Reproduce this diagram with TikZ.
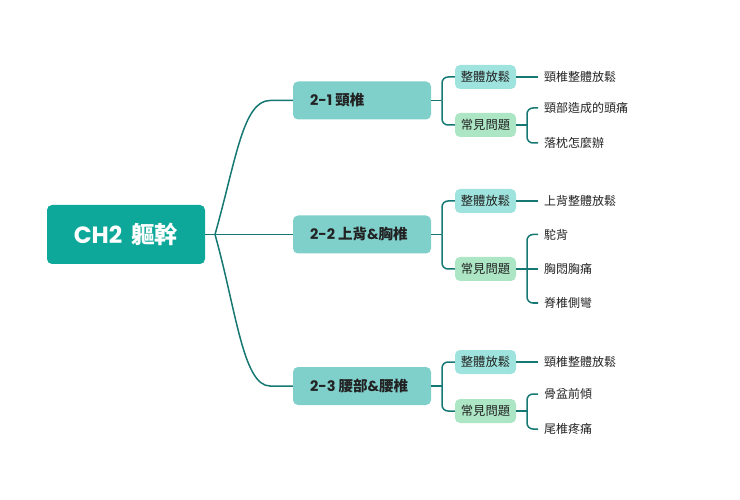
\documentclass[tikz,border=0pt]{standalone}
\usepackage{fontspec}
\newfontfamily\cjk{Noto Sans CJK TC}
\newfontfamily\pop{Poppins}
\definecolor{rootfill}{RGB}{14,168,155}
\definecolor{branchfill}{RGB}{127,207,203}
\definecolor{relaxfill}{RGB}{158,227,221}
\definecolor{probfill}{RGB}{172,230,196}
\definecolor{conn}{RGB}{22,120,115}
\definecolor{txt}{RGB}{34,34,34}
\tikzset{
  rootbox/.style={fill=rootfill, rounded corners=5pt, minimum width=158pt, minimum height=59pt, inner sep=0pt, text=white, font=\bfseries\fontsize{23.5}{26}\selectfont},
  branchbox/.style={fill=branchfill, rounded corners=5pt, minimum width=138pt, minimum height=38pt, inner sep=0pt, text=txt, font=\bfseries\fontsize{14.5}{17}\selectfont},
  branchtext/.style={anchor=west, inner sep=0pt, text=txt, font=\bfseries\fontsize{14.5}{17}\selectfont},
  relaxbox/.style={fill=relaxfill, rounded corners=5pt, minimum width=61pt, minimum height=24pt, inner sep=0pt, text=txt, font=\cjk\fontsize{12.3}{14}\selectfont},
  probbox/.style={relaxbox, fill=probfill},
  leaf/.style={anchor=west, inner xsep=6pt, inner ysep=2pt, text=txt, font=\cjk\fontsize{12}{14}\selectfont},
  link/.style={draw=conn, line width=1.5pt},
  brk/.style={link, rounded corners=6pt}
}
\begin{document}
\begin{tikzpicture}[x=1pt,y=-1pt]
\useasboundingbox (0,0) rectangle (740,500);
% root
\node[rootbox] (root) at (126,234.5) {{\pop CH2} {\cjk 軀幹}};
\coordinate (rj) at (215,234.5);
% branches
\node[branchbox] (b1) at (362,100.5) {};
\node[branchtext] (t1) at (310,100.5) {{\pop 2-1}\hspace{3pt}{\cjk 頸椎}};
\node[branchbox] (b2) at (362,234.5) {};
\node[branchtext] (t2) at (310,234.5) {{\pop 2-2}\hspace{3pt}{\cjk 上背}{\pop\&}{\cjk 胸椎}};
\node[branchbox] (b3) at (362,386) {};
\node[branchtext] (t3) at (310,386) {{\pop 2-3}\hspace{3pt}{\cjk 腰部}{\pop\&}{\cjk 腰椎}};
\coordinate (c1) at (270,100.5);
\coordinate (c3) at (270,386);
\draw[link] (root.east) -- (rj);
\draw[link] (rj) .. controls (236,160) and (243,100.5) .. (c1) -- (b1.west);
\draw[link] (rj) -- (b2.west);
\draw[link] (rj) .. controls (236,309) and (243,386) .. (c3) -- (b3.west);
% level 3: branch 1
\node[relaxbox] (r1) at (485.5,77) {整體放鬆};
\node[probbox] (p1) at (485.5,125) {常見問題};
\coordinate (j1) at (442,100.5);
\draw[link] (b1.east) -- (j1);
\draw[brk] (j1) |- (r1.west);
\draw[brk] (j1) |- (p1.west);
% branch 2
\node[relaxbox] (r2) at (485.5,201) {整體放鬆};
\node[probbox] (p2) at (485.5,269) {常見問題};
\coordinate (j2) at (442,234.5);
\draw[link] (b2.east) -- (j2);
\draw[brk] (j2) |- (r2.west);
\draw[brk] (j2) |- (p2.west);
% branch 3
\node[relaxbox] (r3) at (485.5,362) {整體放鬆};
\node[probbox] (p3) at (485.5,411) {常見問題};
\coordinate (j3) at (442,386);
\draw[link] (b3.east) -- (j3);
\draw[brk] (j3) |- (r3.west);
\draw[brk] (j3) |- (p3.west);
% leaves branch 1
\node[leaf] (l11) at (538,77) {頸椎整體放鬆};
\node[leaf] (l12) at (538,108) {頸部造成的頭痛};
\node[leaf] (l13) at (538,143) {落枕怎麼辦};
\draw[link] (r1.east) -- (l11.west);
\coordinate (k1) at (527,125);
\draw[link] (p1.east) -- (k1);
\draw[brk] (k1) |- (l12.west);
\draw[brk] (k1) |- (l13.west);
% leaves branch 2
\node[leaf] (l21) at (538,201) {上背整體放鬆};
\node[leaf] (l22) at (538,234.5) {駝背};
\node[leaf] (l23) at (538,269) {胸悶胸痛};
\node[leaf] (l24) at (538,303) {脊椎側彎};
\draw[link] (r2.east) -- (l21.west);
\coordinate (k2) at (527,269);
\draw[link] (p2.east) -- (l23.west);
\draw[brk] (k2) |- (l22.west);
\draw[brk] (k2) |- (l24.west);
% leaves branch 3
\node[leaf] (l31) at (538,362) {頸椎整體放鬆};
\node[leaf] (l32) at (538,394) {骨盆前傾};
\node[leaf] (l33) at (538,429) {尾椎疼痛};
\draw[link] (r3.east) -- (l31.west);
\coordinate (k3) at (527,411);
\draw[link] (p3.east) -- (k3);
\draw[brk] (k3) |- (l32.west);
\draw[brk] (k3) |- (l33.west);
\end{tikzpicture}
\end{document}
